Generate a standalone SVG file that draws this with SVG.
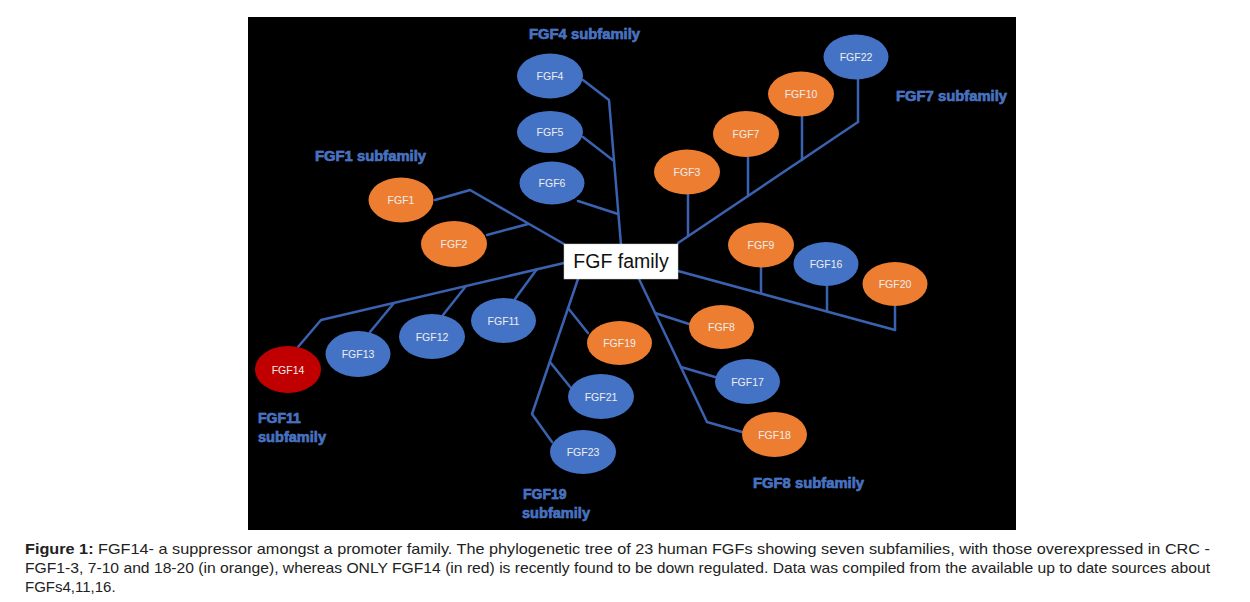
<svg xmlns="http://www.w3.org/2000/svg" width="1250" height="602" viewBox="0 0 1250 602">
<style>
.bg{fill:#ffffff}
.panel{fill:#000000}
.ln{stroke:#3a62b0;stroke-width:2.5;fill:none;stroke-linecap:round;stroke-linejoin:round}
.blue{fill:#4472c4}
.orange{fill:#ed7d31}
.red{fill:#c00000}
.nl{font-family:"Liberation Sans",Arial,sans-serif;font-size:10.5px;fill:#eeeeee;text-anchor:middle}
.sub{font-family:"Liberation Sans",Arial,sans-serif;font-size:14px;font-weight:bold;fill:#4472c4;stroke:#6f97e0;stroke-width:0.5;paint-order:stroke}
.cap{font-family:"Liberation Sans",Arial,sans-serif;font-size:15px;fill:#222222}
</style>
<rect class="bg" x="0" y="0" width="1250" height="602"/>
<rect class="panel" x="248" y="17" width="768" height="513"/>

<g id="connectors">
  <polyline class="ln" points="621,245 609,100 583,80"/>
  <line class="ln" x1="583" y1="137" x2="614" y2="161"/>
  <line class="ln" x1="578" y1="201" x2="618" y2="214"/>
  <polyline class="ln" points="564,244 470,190 435,200"/>
  <line class="ln" x1="487" y1="235" x2="528" y2="224"/>
  <line class="ln" x1="678" y1="243" x2="858" y2="122"/>
  <line class="ln" x1="688" y1="195" x2="688" y2="236"/>
  <line class="ln" x1="748" y1="157" x2="748" y2="196"/>
  <line class="ln" x1="802" y1="117" x2="802" y2="160"/>
  <line class="ln" x1="858" y1="79" x2="858" y2="122"/>
  <line class="ln" x1="678" y1="271" x2="895" y2="330"/>
  <line class="ln" x1="761" y1="268" x2="761" y2="293"/>
  <line class="ln" x1="827" y1="286" x2="827" y2="311"/>
  <line class="ln" x1="895" y1="306" x2="895" y2="330"/>
  <polyline class="ln" points="564,263 321,320 298,347"/>
  <line class="ln" x1="370" y1="332" x2="394" y2="303"/>
  <line class="ln" x1="443" y1="315" x2="466" y2="286"/>
  <line class="ln" x1="515" y1="299" x2="537" y2="269"/>
  <polyline class="ln" points="578,279 532,414 552,442"/>
  <line class="ln" x1="568" y1="308" x2="588" y2="333"/>
  <line class="ln" x1="550" y1="362" x2="571" y2="388"/>
  <polyline class="ln" points="639,279 707,422 742,432"/>
  <line class="ln" x1="655" y1="313" x2="689" y2="324"/>
  <line class="ln" x1="681" y1="367" x2="715" y2="377"/>
</g>

<g id="root">
  <rect x="564" y="244" width="114" height="35" fill="#ffffff" stroke="#d0d0d0" stroke-width="0.5"/>
  <text x="621" y="268" font-family="'Liberation Sans',Arial,sans-serif" font-size="19.5" fill="#111111" text-anchor="middle">FGF family</text>
</g>

<g id="FGF4"><ellipse class="blue" cx="550" cy="76" rx="33" ry="22.5"/><text class="nl" x="550" y="80">FGF4</text></g>
<g id="FGF5"><ellipse class="blue" cx="550" cy="132" rx="33" ry="21"/><text class="nl" x="550" y="136">FGF5</text></g>
<g id="FGF6"><ellipse class="blue" cx="552" cy="183" rx="32.5" ry="21.5"/><text class="nl" x="552" y="187">FGF6</text></g>
<g id="FGF1"><ellipse class="orange" cx="401" cy="200" rx="32.5" ry="22.5"/><text class="nl" x="401" y="204">FGF1</text></g>
<g id="FGF2"><ellipse class="orange" cx="454" cy="244" rx="33" ry="23"/><text class="nl" x="454" y="248">FGF2</text></g>
<g id="FGF22"><ellipse class="blue" cx="856" cy="57" rx="32.5" ry="22.5"/><text class="nl" x="856" y="61">FGF22</text></g>
<g id="FGF10"><ellipse class="orange" cx="801" cy="94" rx="33" ry="22.5"/><text class="nl" x="801" y="98">FGF10</text></g>
<g id="FGF7"><ellipse class="orange" cx="746" cy="134" rx="33" ry="23"/><text class="nl" x="746" y="138">FGF7</text></g>
<g id="FGF3"><ellipse class="orange" cx="687" cy="172" rx="33" ry="22.5"/><text class="nl" x="687" y="176">FGF3</text></g>
<g id="FGF9"><ellipse class="orange" cx="761" cy="245" rx="33" ry="22.5"/><text class="nl" x="761" y="249">FGF9</text></g>
<g id="FGF16"><ellipse class="blue" cx="826" cy="264" rx="32.5" ry="22"/><text class="nl" x="826" y="268">FGF16</text></g>
<g id="FGF20"><ellipse class="orange" cx="895" cy="284" rx="32.5" ry="22"/><text class="nl" x="895" y="288">FGF20</text></g>
<g id="FGF14"><ellipse class="red" cx="288" cy="369.5" rx="33" ry="23.5"/><text class="nl" x="288" y="373.5">FGF14</text></g>
<g id="FGF13"><ellipse class="blue" cx="358" cy="354" rx="32.5" ry="23"/><text class="nl" x="358" y="358">FGF13</text></g>
<g id="FGF12"><ellipse class="blue" cx="432" cy="336.5" rx="33" ry="22.5"/><text class="nl" x="432" y="340.5">FGF12</text></g>
<g id="FGF11"><ellipse class="blue" cx="503.5" cy="320.5" rx="32.5" ry="22.5"/><text class="nl" x="503.5" y="324.5">FGF11</text></g>
<g id="FGF19"><ellipse class="orange" cx="619.5" cy="343" rx="32.5" ry="22"/><text class="nl" x="619.5" y="347">FGF19</text></g>
<g id="FGF21"><ellipse class="blue" cx="601" cy="396.5" rx="33" ry="22.5"/><text class="nl" x="601" y="400.5">FGF21</text></g>
<g id="FGF23"><ellipse class="blue" cx="583" cy="452" rx="33" ry="22"/><text class="nl" x="583" y="456">FGF23</text></g>
<g id="FGF8"><ellipse class="orange" cx="721.5" cy="327" rx="32.5" ry="22"/><text class="nl" x="721.5" y="331">FGF8</text></g>
<g id="FGF17"><ellipse class="blue" cx="747.5" cy="381.5" rx="32.5" ry="22.5"/><text class="nl" x="747.5" y="385.5">FGF17</text></g>
<g id="FGF18"><ellipse class="orange" cx="774.5" cy="434.5" rx="32.5" ry="22.5"/><text class="nl" x="774.5" y="438.5">FGF18</text></g>

<g id="labels">
  <text class="sub" x="529" y="39" textLength="111" lengthAdjust="spacingAndGlyphs">FGF4 subfamily</text>
  <text class="sub" x="315" y="161" textLength="111" lengthAdjust="spacingAndGlyphs">FGF1 subfamily</text>
  <text class="sub" x="896" y="101" textLength="111" lengthAdjust="spacingAndGlyphs">FGF7 subfamily</text>
  <text class="sub" x="258" y="423">FGF11</text>
  <text class="sub" x="258" y="442" textLength="68" lengthAdjust="spacingAndGlyphs">subfamily</text>
  <text class="sub" x="523" y="499">FGF19</text>
  <text class="sub" x="522" y="518" textLength="68" lengthAdjust="spacingAndGlyphs">subfamily</text>
  <text class="sub" x="753" y="488" textLength="111" lengthAdjust="spacingAndGlyphs">FGF8 subfamily</text>
</g>

<g id="caption">
  <text class="cap" x="25" y="554" textLength="1185" lengthAdjust="spacingAndGlyphs"><tspan font-weight="bold">Figure 1:</tspan> FGF14- a suppressor amongst a promoter family. The phylogenetic tree of 23 human FGFs showing seven subfamilies, with those overexpressed in CRC -</text>
  <text class="cap" x="25" y="573" textLength="1185" lengthAdjust="spacingAndGlyphs">FGF1-3, 7-10 and 18-20 (in orange), whereas ONLY FGF14 (in red) is recently found to be down regulated. Data was compiled from the available up to date sources about</text>
  <text class="cap" x="25" y="592">FGFs4,11,16.</text>
</g>
</svg>
